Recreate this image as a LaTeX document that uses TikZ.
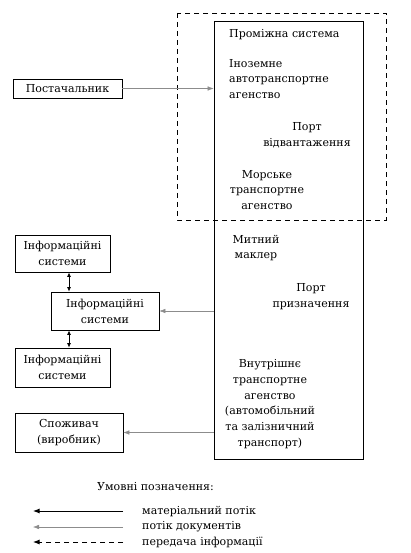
\documentclass[tikz,border=0pt]{standalone}
\usepackage{fontspec}
\setmainfont{DejaVu Serif}
\usetikzlibrary{arrows.meta}
\newcommand{\diagfont}{\fontsize{11}{15.8}\selectfont}
\begin{document}
\begin{tikzpicture}[x=1pt,y=-1pt,
  every node/.style={font=\diagfont, inner sep=0pt, text=black},
  box/.style={draw, line width=0.8pt, align=center},
  lbl/.style={align=center},
  lbll/.style={align=left, anchor=west},
  doc/.style={draw=black!45, line width=0.5pt, -{Latex[length=6pt,width=4.5pt]}},
  mat/.style={draw=black, line width=1pt, -{Latex[length=6.5pt,width=5pt]}},
  inf/.style={draw=black, line width=0.9pt, dash pattern=on 5pt off 4pt, -{Latex[length=6.5pt,width=5pt]}},
  dbl/.style={draw=black, line width=0.8pt, {Latex[length=4.5pt,width=4pt]}-{Latex[length=4.5pt,width=4pt]}}]
\useasboundingbox (0,0) rectangle (411,553);
% boxes
\node[box, minimum width=109pt, minimum height=19pt] (post) at (67.5,88.5) {Постачальник};
\node[box, minimum width=95pt, minimum height=37pt] (info1) at (62.5,253.5) {Інформаційні\\системи};
\node[box, minimum width=108pt, minimum height=38pt] (info2) at (105,311) {Інформаційні\\системи};
\node[box, minimum width=95pt, minimum height=39pt] (info3) at (62.5,367.5) {Інформаційні\\системи};
\node[box, minimum width=108pt, minimum height=39pt] (cons) at (69,432.5) {Споживач\\(виробник)};
\node[box, minimum width=149pt, minimum height=438pt] (main) at (288.5,240) {};
% dashed region
\draw[line width=0.9pt, dash pattern=on 5pt off 4pt] (177,13) rectangle (386,220);
% texts inside main box
\node[lbll] (t1) at (229,35) {Проміжна система};
\node[lbll] (t2) at (229,79) {Іноземне\\автотранспортне\\агенство};
\node[lbl] (t3) at (307,135) {Порт\\відвантаження};
\node[lbl] (t4) at (267,190) {Морське\\транспортне\\агенство};
\node[lbl] (t5) at (256,248) {Митний\\маклер};
\node[lbl] (t6) at (311,297) {Порт\\призначення};
\node[lbl] (t7) at (270,404) {Внутрішнє\\транспортне\\агенство\\(автомобільний\\та залізничний\\транспорт)};
% connectors
\draw[doc] (post.east) -- (post.east -| main.west);
\draw[doc] (main.west |- info2.east) -- (info2.east);
\draw[doc] (main.west |- cons.east) -- (cons.east);
\coordinate (ax) at (69,0);
\draw[dbl] (info1.south -| ax) -- (info2.north -| ax);
\draw[dbl] (info2.south -| ax) -- (info3.north -| ax);
% legend
\node[lbll] (lt) at (97,487) {Умовні позначення:};
\coordinate (l1s) at (123,511);
\coordinate (l1e) at (33,511);
\coordinate (l2s) at (123,527);
\coordinate (l2e) at (33,527);
\coordinate (l3s) at (123,542);
\coordinate (l3e) at (33,542);
\draw[mat] (l1s) -- (l1e);
\draw[doc] (l2s) -- (l2e);
\draw[inf] (l3s) -- (l3e);
\node[lbll] (lg1) at (142,512) {матеріальний потік};
\node[lbll] (lg2) at (142,527) {потік документів};
\node[lbll] (lg3) at (142,542) {передача інформації};
\end{tikzpicture}
\end{document}
